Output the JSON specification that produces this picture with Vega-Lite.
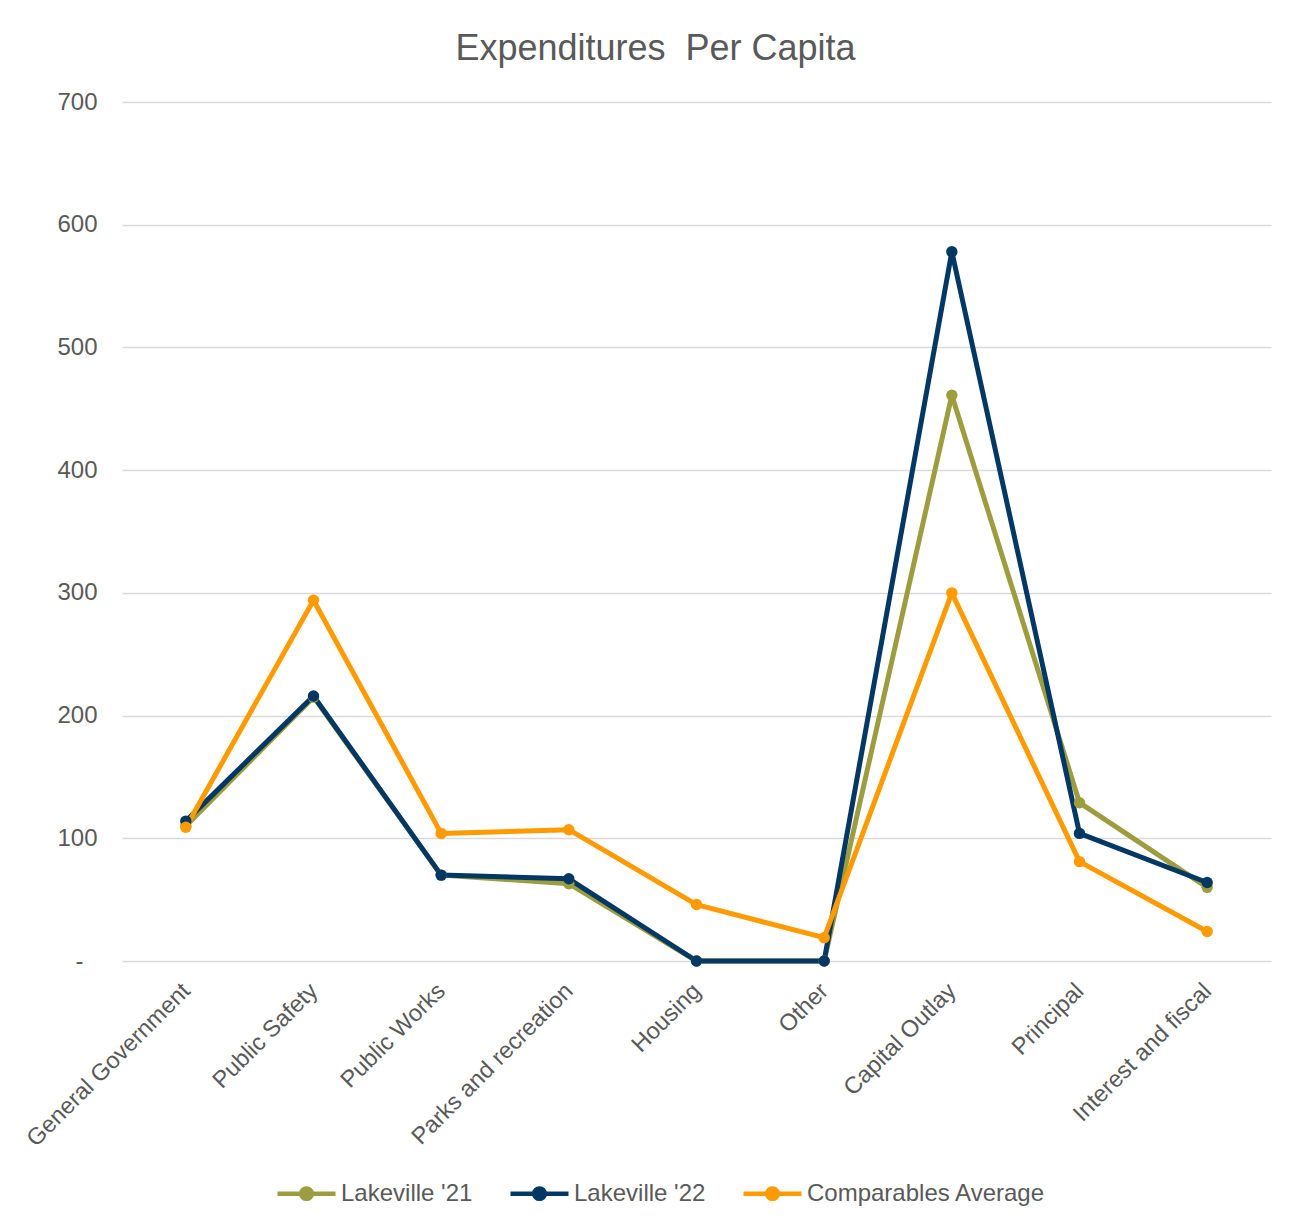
{
  "$schema": "https://vega.github.io/schema/vega-lite/v6.json",
  "autosize": {"type": "none"},
  "width": 1149,
  "height": 859,
  "padding": {"left": 122, "top": 102, "right": 28, "bottom": 265},
  "background": "white",
  "title": {
    "text": "Expenditures \u00a0Per Capita",
    "fontSize": 36,
    "font": "Liberation Sans",
    "fontWeight": "normal",
    "color": "#595959",
    "anchor": "middle",
    "frame": "group",
    "dx": -41,
    "offset": 22
  },
  "data": {
    "values": [
      {"category": "General Government", "series": "Lakeville '21", "value": 110},
      {"category": "Public Safety", "series": "Lakeville '21", "value": 215},
      {"category": "Public Works", "series": "Lakeville '21", "value": 70},
      {"category": "Parks and recreation", "series": "Lakeville '21", "value": 63},
      {"category": "Housing", "series": "Lakeville '21", "value": 0},
      {"category": "Other", "series": "Lakeville '21", "value": 0},
      {"category": "Capital Outlay", "series": "Lakeville '21", "value": 461},
      {"category": "Principal", "series": "Lakeville '21", "value": 129},
      {"category": "Interest and fiscal", "series": "Lakeville '21", "value": 60},
      {"category": "General Government", "series": "Lakeville '22", "value": 114},
      {"category": "Public Safety", "series": "Lakeville '22", "value": 216},
      {"category": "Public Works", "series": "Lakeville '22", "value": 70},
      {"category": "Parks and recreation", "series": "Lakeville '22", "value": 67},
      {"category": "Housing", "series": "Lakeville '22", "value": 0},
      {"category": "Other", "series": "Lakeville '22", "value": 0},
      {"category": "Capital Outlay", "series": "Lakeville '22", "value": 578},
      {"category": "Principal", "series": "Lakeville '22", "value": 104},
      {"category": "Interest and fiscal", "series": "Lakeville '22", "value": 64},
      {"category": "General Government", "series": "Comparables Average", "value": 109},
      {"category": "Public Safety", "series": "Comparables Average", "value": 294},
      {"category": "Public Works", "series": "Comparables Average", "value": 104},
      {"category": "Parks and recreation", "series": "Comparables Average", "value": 107},
      {"category": "Housing", "series": "Comparables Average", "value": 46},
      {"category": "Other", "series": "Comparables Average", "value": 19},
      {"category": "Capital Outlay", "series": "Comparables Average", "value": 300},
      {"category": "Principal", "series": "Comparables Average", "value": 81},
      {"category": "Interest and fiscal", "series": "Comparables Average", "value": 24}
    ]
  },
  "mark": {
    "type": "line",
    "strokeWidth": 5,
    "strokeJoin": "round",
    "point": {"filled": true, "size": 130, "opacity": 1}
  },
  "encoding": {
    "x": {
      "field": "category",
      "type": "nominal",
      "sort": null,
      "scale": {"type": "point", "padding": 0.5},
      "axis": {
        "title": null,
        "labelAngle": -45,
        "labelAlign": "right",
        "labelBaseline": "middle",
        "labelPadding": 26,
        "labelFontSize": 23.5,
        "labelLimit": 0,
        "labelFont": "Liberation Sans",
        "labelColor": "#595959",
        "ticks": false,
        "domain": false,
        "grid": false
      }
    },
    "y": {
      "field": "value",
      "type": "quantitative",
      "scale": {"domain": [0, 700], "nice": false},
      "axis": {
        "title": null,
        "values": [0, 100, 200, 300, 400, 500, 600, 700],
        "labelExpr": "datum.value === 0 ? '-' : datum.label",
        "labelPadding": {"condition": {"test": "datum.value === 0", "value": 39}, "value": 25},
        "labelFontSize": 24,
        "labelFont": "Liberation Sans",
        "labelColor": "#595959",
        "ticks": false,
        "domain": false,
        "grid": true,
        "gridColor": "#d9d9d9",
        "gridWidth": 1.3
      }
    },
    "color": {
      "field": "series",
      "type": "nominal",
      "sort": ["Lakeville '21", "Lakeville '22", "Comparables Average"],
      "scale": {
        "domain": ["Lakeville '21", "Lakeville '22", "Comparables Average"],
        "range": ["#9C9D3E", "#043864", "#FF9A00"]
      },
      "legend": {
        "title": null,
        "orient": "none",
        "direction": "horizontal",
        "legendX": 153,
        "legendY": 1060,
        "padding": 0,
        "columnPadding": 28,
        "labelOffset": 3,
        "labelFontSize": 24,
        "labelLimit": 0,
        "labelFont": "Liberation Sans",
        "labelColor": "#595959",
        "symbolType": "M-1,0L1,0M-0.18,0A0.18,0.18,0,1,1,0.18,0A0.18,0.18,0,1,1,-0.18,0Z",
        "symbolSize": 3364,
        "symbolStrokeWidth": 4.5,
        "encode": {
          "symbols": {
            "update": {
              "fill": {"scale": "color", "field": "value"},
              "stroke": {"scale": "color", "field": "value"},
              "opacity": {"value": 1}
            }
          }
        }
      }
    }
  },
  "config": {
    "view": {"stroke": null},
    "font": "Liberation Sans"
  }
}
